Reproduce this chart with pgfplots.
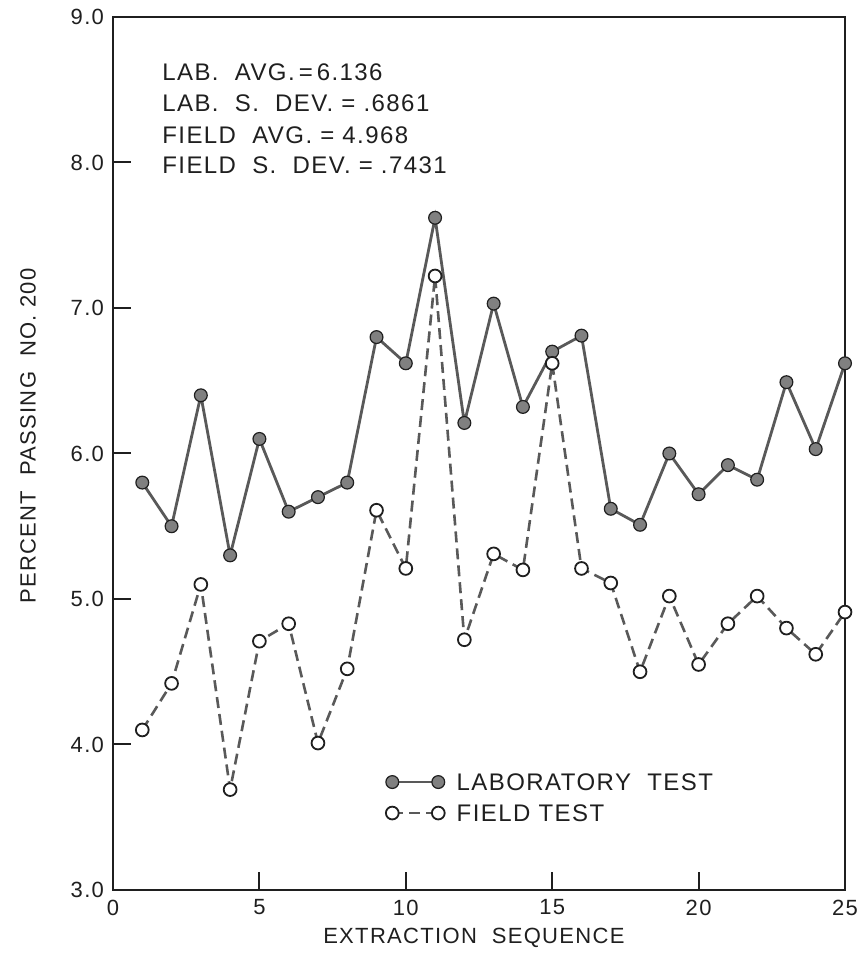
\documentclass[border=0pt]{standalone}
\usepackage{fontspec}
\setmainfont{Liberation Sans}
\newfontfamily\lett[LetterSpace=6]{Liberation Sans}
\usepackage{pgfplots}
\usepackage{pgfplotstable}
\pgfplotsset{compat=1.18}
\definecolor{ink}{gray}{0.12}
\definecolor{lineink}{gray}{0.35}
\definecolor{markfill}{gray}{0.5}

\pgfplotstableread{
x y
1 5.80
2 5.50
3 6.40
4 5.30
5 6.10
6 5.60
7 5.70
8 5.80
9 6.80
10 6.62
11 7.62
12 6.21
13 7.03
14 6.32
15 6.70
16 6.81
17 5.62
18 5.51
19 6.00
20 5.72
21 5.92
22 5.82
23 6.49
24 6.03
25 6.62
}\labdata

\pgfplotstableread{
x y
1 4.10
2 4.42
3 5.10
4 3.69
5 4.71
6 4.83
7 4.01
8 4.52
9 5.61
10 5.21
11 7.22
12 4.72
13 5.31
14 5.20
15 6.62
16 5.21
17 5.11
18 4.50
19 5.02
20 4.55
21 4.83
22 5.02
23 4.80
24 4.62
25 4.91
}\fielddata

\begin{document}
\begin{tikzpicture}
\begin{axis}[
  at={(0,0)}, anchor=south west,
  scale only axis, width=366pt, height=436.5pt,
  xmin=0, xmax=25, ymin=3, ymax=9,
  xtick={0,5,10,15,20,25},
  ytick={3,4,5,6,7,8,9},
  xtick pos=bottom, ytick pos=left,
  tick align=inside, major tick length=9pt,
  axis line style={line width=1pt, ink},
  tick style={line width=1pt, ink},
  /pgf/number format/assume math mode=true,
  yticklabel style={/pgf/number format/fixed, /pgf/number format/fixed zerofill, /pgf/number format/precision=1, xshift=-1pt},
  ticklabel style={font=\fontsize{11}{13}\lett, text=ink},
  xticklabel style={yshift=-1.3pt},
  every axis x label/.style={at={(axis description cs:0.493,0)}, anchor=center, yshift=-24pt},
  every axis y label/.style={at={(axis description cs:0,0.52)}, xshift=-42.5pt, anchor=center, rotate=90},
  label style={font=\fontsize{11}{13}\lett, text=ink},
  xlabel={EXTRACTION\ \ SEQUENCE},
  ylabel={PERCENT\ \ PASSING\ \ NO.\ 200},
  legend style={at={(axis cs:9.32,3.801)}, anchor=north west, draw=none, fill=none,
    inner sep=0pt, outer sep=0pt, row sep=6.9pt,
    font=\fontsize{12}{14}\lett, text=ink,
    nodes={inner sep=0pt, text height=8.6pt, text depth=0pt},
    /tikz/every odd column/.append style={column sep=6pt}},
  legend cell align=left,
  legend image code/.code={\draw[#1] plot coordinates {(0pt,0pt) (23pt,0pt)};},
]
\addplot[lineink, line width=1.4pt, mark=*, mark size=3.2pt,
  mark options={fill=markfill, draw=ink, line width=0.6pt}] table[x=x,y=y] {\labdata};
\addlegendentry{LABORATORY\ \ TEST}
\addplot[lineink, line width=1.3pt, dash pattern=on 5.5pt off 3pt, mark=*, mark size=3.2pt,
  mark options={solid, fill=white, draw=ink, line width=0.9pt}] table[x=x,y=y] {\fielddata};
\addlegendentry{FIELD TEST}

\node[anchor=west, inner sep=0pt, font=\fontsize{12}{14}\lett, text=ink] at (axis cs:1.67,8.62) {LAB.\ \ AVG.\,=\,6.136};
\node[anchor=west, inner sep=0pt, font=\fontsize{12}{14}\lett, text=ink] at (axis cs:1.67,8.41) {LAB.\ \ S.\ \ DEV.\ =\ .6861};
\node[anchor=west, inner sep=0pt, font=\fontsize{12}{14}\lett, text=ink] at (axis cs:1.67,8.19) {FIELD\ \ AVG.\ =\ 4.968};
\node[anchor=west, inner sep=0pt, font=\fontsize{12}{14}\lett, text=ink] at (axis cs:1.67,7.98) {FIELD\ \ S.\ \ DEV.\ =\ .7431};
\end{axis}
\pgfresetboundingbox
\path (-56.5pt,-35.5pt) rectangle (377pt,445pt);
\end{tikzpicture}
\end{document}
